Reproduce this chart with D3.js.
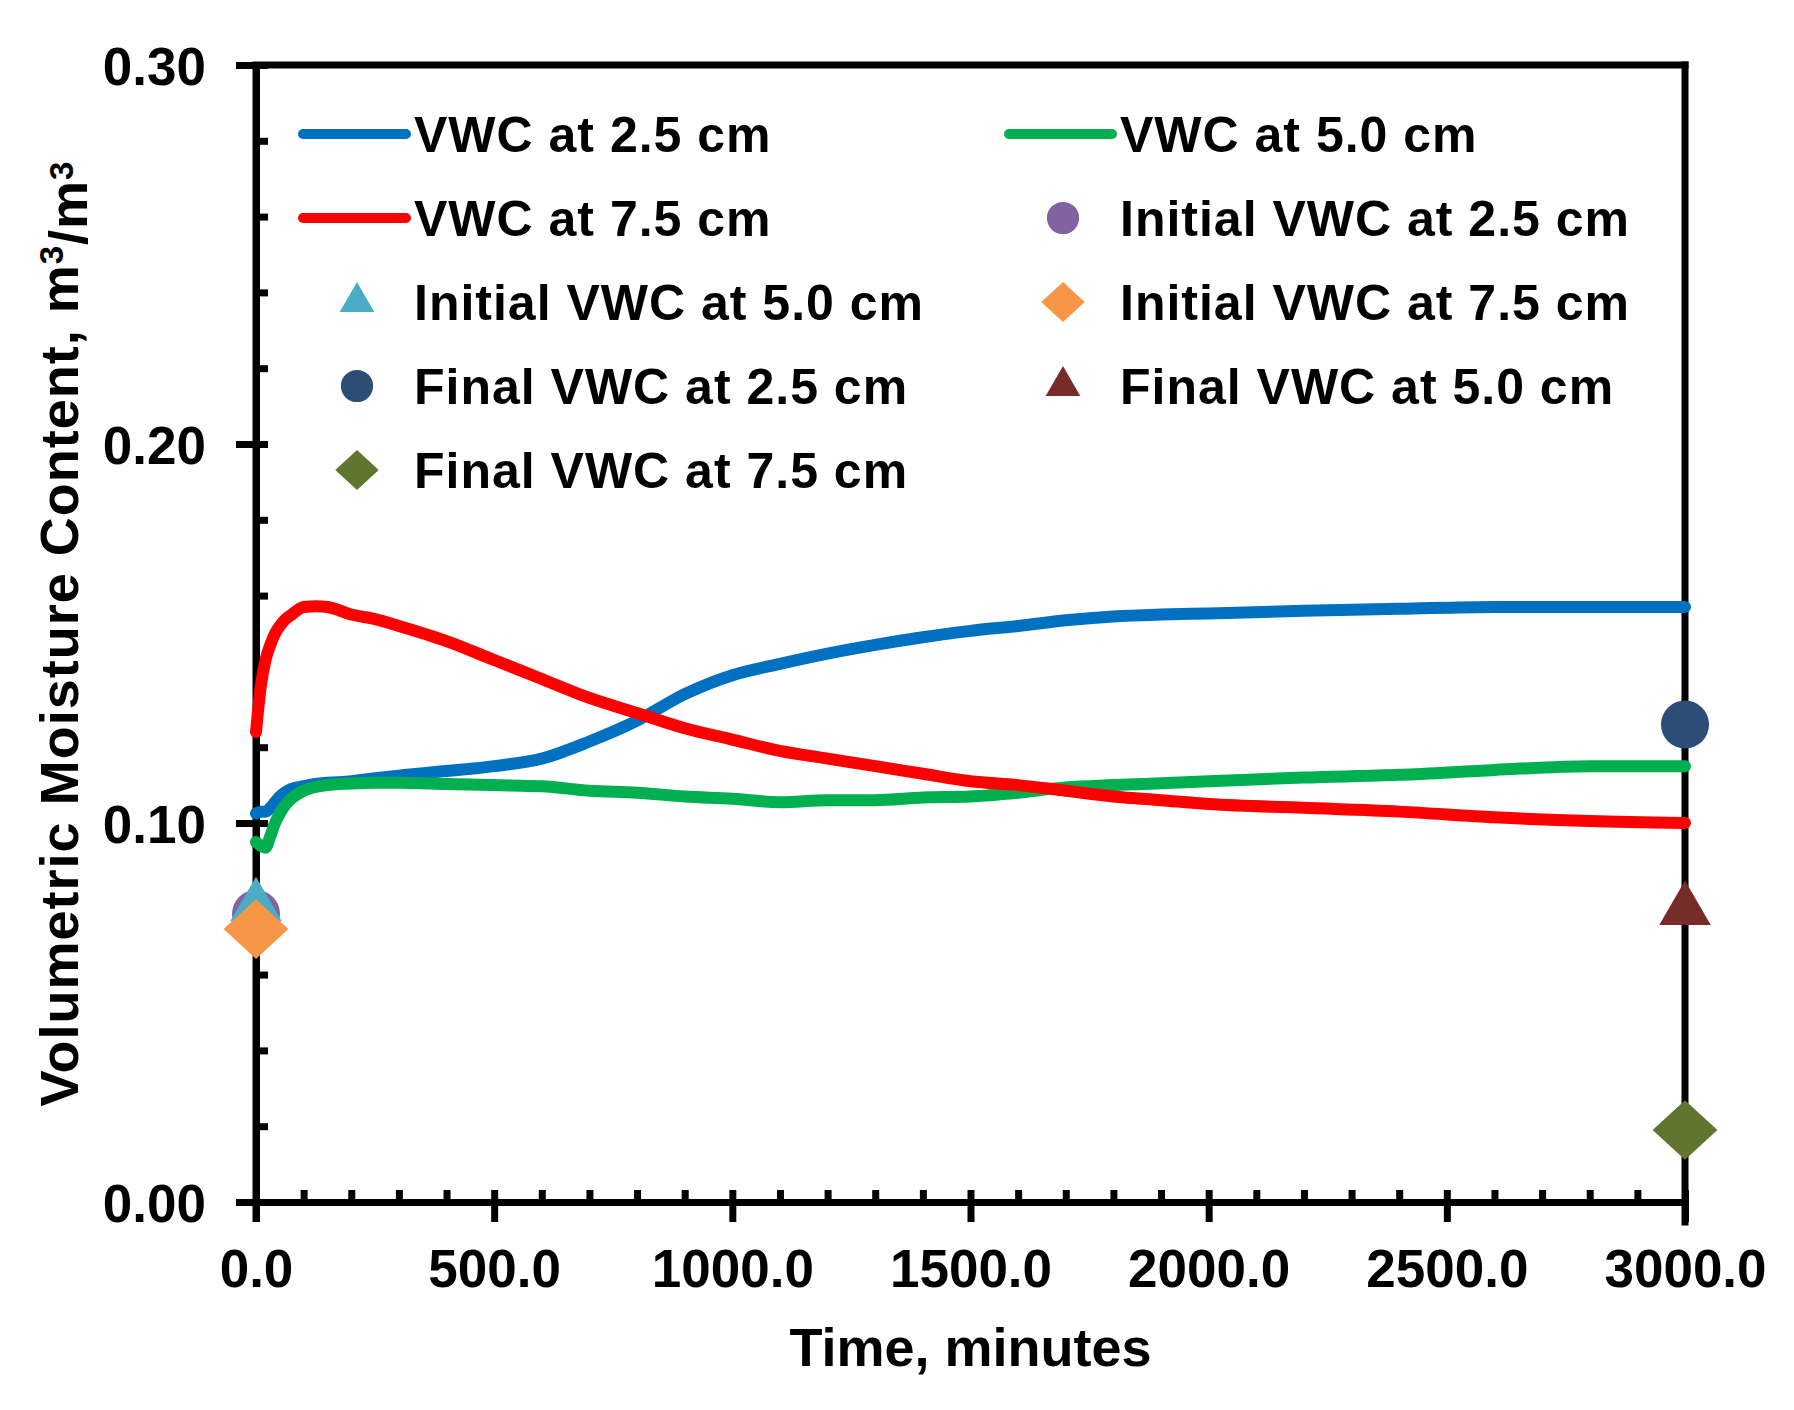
<!DOCTYPE html>
<html>
<head>
<meta charset="utf-8">
<script src="https://cdn.jsdelivr.net/npm/d3@7"></script>
<style>
  body { margin: 0; background: #fff; }
  text { font-family: "Liberation Sans", Arial, sans-serif; font-weight: bold; fill: #000; }
</style>
</head>
<body>
<div id="chart"></div>
<script>
var times = [0, 10, 20, 30, 40, 50, 60, 75, 100, 125, 150, 200, 250, 300, 400, 500, 600, 700, 800, 900,
    1000, 1100, 1200, 1300, 1400, 1500, 1600, 1700, 1800, 1900, 2000, 2200, 2400, 2600, 2800, 3000];
var vwc25 = [0.1025, 0.103, 0.103, 0.104, 0.1055, 0.107, 0.108, 0.109, 0.1097, 0.1103, 0.1106, 0.111, 0.1118, 0.1125, 0.1137, 0.115, 0.117, 0.1215, 0.127, 0.134,
    0.139, 0.142, 0.1447, 0.147, 0.149, 0.1507, 0.152, 0.1535, 0.1545, 0.155, 0.1553, 0.156, 0.1565, 0.157, 0.157, 0.157];
var vwc50 = [0.095, 0.094, 0.0935, 0.0965, 0.1, 0.1025, 0.1045, 0.1065, 0.1085, 0.1095, 0.11, 0.1104, 0.1106, 0.1106, 0.1103, 0.11, 0.1097, 0.1085, 0.108, 0.107,
    0.1064, 0.1055, 0.106, 0.106, 0.1067, 0.107, 0.108, 0.1094, 0.11, 0.1105, 0.111, 0.112, 0.1127, 0.114, 0.115, 0.115];
var vwc75 = [0.124, 0.136, 0.143, 0.147, 0.15, 0.152, 0.1535, 0.155, 0.157, 0.1572, 0.157, 0.155, 0.1538, 0.152, 0.148, 0.143, 0.138, 0.133, 0.129, 0.125,
    0.122, 0.119, 0.117, 0.115, 0.113, 0.111, 0.11, 0.1085, 0.107, 0.106, 0.105, 0.104, 0.103, 0.1015, 0.1005, 0.1];

var lineLabels = ["VWC at 2.5 cm", "VWC at 5.0 cm", "VWC at 7.5 cm"];
var lineColors = ["#0070C0", "#00B050", "#FF0000"];

var markerLabels = ["Initial VWC at 2.5 cm", "Initial VWC at 5.0 cm", "Initial VWC at 7.5 cm",
    "Final VWC at 2.5 cm", "Final VWC at 5.0 cm", "Final VWC at 7.5 cm"];
var markerTimes = [0, 0, 0, 3000, 3000, 3000];
var markerValues = [0.076, 0.078, 0.072, 0.126, 0.077, 0.019];
var markerShapes = ["circle", "triangle", "diamond", "circle", "triangle", "diamond"];
var markerColors = ["#8064A2", "#4BACC6", "#F79646", "#2C4D75", "#772C2A", "#5F7530"];

var xMajor = [0, 500, 1000, 1500, 2000, 2500, 3000];
var yMajor = [0, 0.1, 0.2, 0.3];

var W = 1794, H = 1410;
var margin = { top: 65, right: 109, bottom: 208, left: 256 };
var width = W - margin.left - margin.right,
    height = H - margin.top - margin.bottom;

var x = d3.scaleLinear().domain([0, 3000]).range([0, width]);
var y = d3.scaleLinear().domain([0, 0.3]).range([height, 0]);

var svg = d3.select("#chart").append("svg")
    .attr("width", W)
    .attr("height", H);

var g = svg.append("g")
    .attr("transform", "translate(" + margin.left + "," + margin.top + ")");

// diamond a bit wider than d3's own
var wideDiamond = {
    draw: function (ctx, size) {
        var r = Math.sqrt(size / 2);
        ctx.moveTo(0, -r * 0.92);
        ctx.lineTo(r, 0);
        ctx.lineTo(0, r * 0.92);
        ctx.lineTo(-r, 0);
        ctx.closePath();
    }
};
function symbolPath(shape, size) {
    var type = shape == "circle" ? d3.symbolCircle : shape == "triangle" ? d3.symbolTriangle : wideDiamond;
    return d3.symbol().type(type).size(size)();
}

/* frame (top and right) */
g.append("line").attr("x1", 0).attr("x2", width).attr("y1", 0).attr("y2", 0)
    .attr("stroke", "#000").attr("stroke-width", 7).attr("stroke-linecap", "square");
g.append("line").attr("x1", width).attr("x2", width).attr("y1", 0).attr("y2", height + 20)
    .attr("stroke", "#000").attr("stroke-width", 7).attr("stroke-linecap", "square");

/* axes */
var yMinor = d3.range(0, 0.3001, 0.02).filter(v => Math.abs(Math.round(v * 10) - v * 10) > 1e-6);
var xMinor = d3.range(0, 3001, 100).filter(v => v % 500 != 0);

var yAxis = g.append("g").attr("class", "axis")
    .call(d3.axisLeft(y).tickValues(yMajor).tickSize(20).tickSizeOuter(0).tickPadding(30)
        .tickFormat(d3.format(".2f")));
g.append("g").attr("class", "axis")
    .call(d3.axisRight(y).tickValues(yMajor.concat(yMinor)).tickSize(12).tickSizeOuter(0).tickFormat(""));

var xAxis = g.append("g").attr("class", "axis")
    .attr("transform", "translate(0," + height + ")")
    .call(d3.axisBottom(x).tickValues(xMajor).tickSize(20).tickSizeOuter(0).tickPadding(27)
        .tickFormat(d3.format(".1f")));
g.append("g").attr("class", "axis")
    .attr("transform", "translate(0," + height + ")")
    .call(d3.axisTop(x).tickValues(xMajor.concat(xMinor)).tickSize(12).tickSizeOuter(0).tickFormat(""));

g.selectAll(".axis path").attr("stroke", "#000").attr("stroke-width", 7);
g.selectAll(".axis line").attr("stroke", "#000").attr("stroke-width", 7);
g.selectAll(".axis text").style("font-size", "53px").attr("fill", "#000")
    .style("font-family", "'Liberation Sans', Arial, sans-serif").style("font-weight", "bold");
yAxis.selectAll("text").attr("dy", "0.36em");
// extend left axis to the top corner
g.append("line").attr("x1", 0).attr("x2", 0).attr("y1", 0).attr("y2", height + 20)
    .attr("stroke", "#000").attr("stroke-width", 7);

/* series lines */
var series = [vwc25, vwc50, vwc75];
var line = d3.line()
    .x((d, i) => x(times[i]))
    .y(d => y(d))
    .curve(d3.curveMonotoneX);

g.selectAll("path.series")
    .data(series)
    .enter().append("path")
    .attr("class", "series")
    .attr("d", line)
    .attr("fill", "none")
    .attr("stroke", (d, i) => lineColors[i])
    .attr("stroke-width", 12)
    .attr("stroke-linejoin", "round")
    .attr("stroke-linecap", "round");

/* initial / final markers */
var sizes = { circle: 1810, triangle: 1150, diamond: 2100 };
g.selectAll("path.marker")
    .data(markerValues)
    .enter().append("path")
    .attr("class", "marker")
    .attr("transform", (d, i) => "translate(" + x(markerTimes[i]) + "," + y(d) + ")")
    .attr("d", (d, i) => symbolPath(markerShapes[i], sizes[markerShapes[i]]))
    .attr("fill", (d, i) => markerColors[i]);

/* legend */
var legendItems = [
    { label: lineLabels[0], kind: "line", color: lineColors[0] },
    { label: lineLabels[1], kind: "line", color: lineColors[1] },
    { label: lineLabels[2], kind: "line", color: lineColors[2] }
];
markerLabels.forEach(function (l, i) {
    legendItems.push({ label: l, kind: markerShapes[i], color: markerColors[i] });
});

var colX = [47, 753], rowY0 = 69, rowStep = 84;
var legend = g.append("g").attr("class", "legend");
var item = legend.selectAll("g")
    .data(legendItems)
    .enter().append("g")
    .attr("transform", (d, i) => "translate(" + colX[i % 2] + "," + (rowY0 + Math.floor(i / 2) * rowStep) + ")");

item.filter(d => d.kind == "line").append("line")
    .attr("x1", 0).attr("x2", 103).attr("y1", 0).attr("y2", 0)
    .attr("stroke", d => d.color).attr("stroke-width", 10).attr("stroke-linecap", "round");
item.filter(d => d.kind != "line").append("path")
    .attr("transform", "translate(54,0)")
    .attr("d", d => symbolPath(d.kind, sizes[d.kind] * 0.45))
    .attr("fill", d => d.color);
item.append("text")
    .attr("x", 111)
    .attr("dy", "0.36em")
    .style("font-size", "50px")
    .style("letter-spacing", "1px")
    .text(d => d.label);

/* axis titles */
svg.append("text")
    .attr("x", margin.left + width / 2)
    .attr("y", 1366)
    .attr("text-anchor", "middle")
    .style("font-size", "54px")
    .text("Time, minutes");

var yt = svg.append("text")
    .attr("transform", "translate(78," + (margin.top + height / 2) + ") rotate(-90)")
    .attr("text-anchor", "middle")
    .style("font-size", "54px")
    .style("letter-spacing", "1px");
yt.append("tspan").text("Volumetric Moisture Content, m");
yt.append("tspan").attr("dy", "-0.45em").style("font-size", "33px").text("3");
yt.append("tspan").attr("dy", "0.45em").text("/m");
yt.append("tspan").attr("dy", "-0.45em").style("font-size", "33px").text("3");
</script>
</body>
</html>
